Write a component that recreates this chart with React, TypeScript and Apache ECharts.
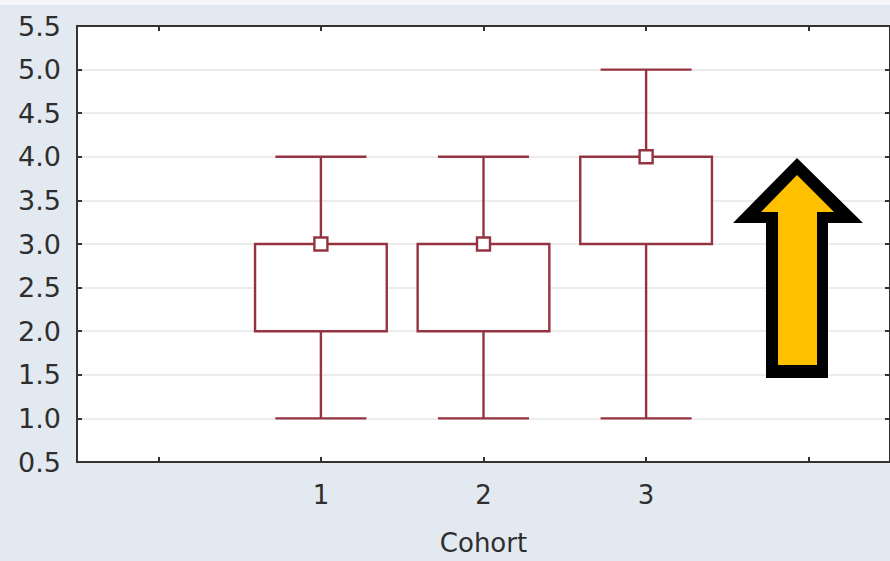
import React, { useEffect, useRef } from "react";
import * as echarts from "echarts";

const categories = ["", "1", "2", "3", ""];
const cohortIndex = [1, 2, 3];
const minValues = [1.0, 1.0, 1.0];
const q1Values = [2.0, 2.0, 3.0];
const medianValues = [3.0, 3.0, 4.0];
const q3Values = [3.0, 3.0, 4.0];
const maxValues = [4.0, 4.0, 5.0];
const yTicks = { min: 0.5, max: 5.5, interval: 0.5 };

const MAROON = "#953340";
const AXIS = "#333333";
const FONT = "DejaVu Sans, Liberation Sans, Arial, sans-serif";
const TEXT = "#2e2e2e";

export default function App() {
  const ref = useRef<HTMLDivElement>(null);
  useEffect(() => {
    if (!ref.current) return;
    const chart = echarts.init(ref.current, undefined, { renderer: "svg" });
    const data = cohortIndex.map((c, i) => [
      c,
      minValues[i],
      q1Values[i],
      medianValues[i],
      q3Values[i],
      maxValues[i],
    ]);
    const option: any = {
      animation: false,
      backgroundColor: "#e3e9f1",
      textStyle: { fontFamily: FONT },
      grid: {
        left: 77,
        top: 26,
        width: 818,
        height: 436,
        show: true,
        backgroundColor: "#ffffff",
        borderColor: AXIS,
        borderWidth: 2,
      },
      xAxis: [
        {
          type: "category",
          data: categories,
          boundaryGap: true,
          position: "bottom",
          name: "Cohort",
          nameLocation: "middle",
          nameGap: 68,
          nameTextStyle: { fontSize: 26, color: TEXT, fontFamily: FONT },
          axisLine: { show: true, lineStyle: { color: AXIS, width: 2 } },
          axisTick: { show: true, inside: true, alignWithLabel: true, length: 5, lineStyle: { color: AXIS, width: 2 } },
          axisLabel: { fontSize: 26, color: TEXT, margin: 20, interval: 0, fontFamily: FONT },
          splitLine: { show: false },
        },
        {
          type: "category",
          data: categories,
          boundaryGap: true,
          position: "top",
          axisLine: { show: true, lineStyle: { color: AXIS, width: 2 } },
          axisTick: { show: true, inside: true, alignWithLabel: true, length: 5, lineStyle: { color: AXIS, width: 2 } },
          axisLabel: { show: false },
          splitLine: { show: false },
        },
      ],
      yAxis: [
        {
          type: "value",
          min: yTicks.min,
          max: yTicks.max,
          interval: yTicks.interval,
          position: "left",
          axisLine: { show: true, lineStyle: { color: AXIS, width: 2 } },
          axisTick: { show: true, inside: true, length: 5, lineStyle: { color: AXIS, width: 2 } },
          axisLabel: {
            fontSize: 27,
            color: TEXT,
            margin: 16,
            fontFamily: FONT,
            formatter: (v: number) => v.toFixed(1),
          },
          splitLine: { show: true, lineStyle: { color: "#ececec", width: 2 } },
        },
        {
          type: "value",
          min: yTicks.min,
          max: yTicks.max,
          interval: yTicks.interval,
          position: "right",
          axisLine: { show: true, lineStyle: { color: AXIS, width: 2 } },
          axisTick: { show: true, inside: true, length: 5, lineStyle: { color: AXIS, width: 2 } },
          axisLabel: { show: false },
          splitLine: { show: false },
        },
      ],
      series: [
        {
          type: "custom",
          xAxisIndex: 0,
          yAxisIndex: 0,
          data,
          encode: { x: 0, y: [1, 2, 3, 4, 5] },
          renderItem: (params: any, api: any) => {
            const idx = api.value(0);
            const band = api.size([1, 0])[0];
            const boxW = band * 0.81;
            const capW = band * 0.56;
            const pMin = api.coord([idx, api.value(1)]);
            const pQ1 = api.coord([idx, api.value(2)]);
            const pMed = api.coord([idx, api.value(3)]);
            const pQ3 = api.coord([idx, api.value(4)]);
            const pMax = api.coord([idx, api.value(5)]);
            const cx = pMin[0];
            const ls = { stroke: MAROON, lineWidth: 2.4, fill: null };
            return {
              type: "group",
              children: [
                { type: "line", shape: { x1: cx, y1: pQ3[1], x2: cx, y2: pMax[1] }, style: ls },
                { type: "line", shape: { x1: cx, y1: pQ1[1], x2: cx, y2: pMin[1] }, style: ls },
                { type: "line", shape: { x1: cx - capW / 2, y1: pMax[1], x2: cx + capW / 2, y2: pMax[1] }, style: ls },
                { type: "line", shape: { x1: cx - capW / 2, y1: pMin[1], x2: cx + capW / 2, y2: pMin[1] }, style: ls },
                {
                  type: "rect",
                  shape: { x: cx - boxW / 2, y: pQ3[1], width: boxW, height: pQ1[1] - pQ3[1] },
                  style: { stroke: MAROON, lineWidth: 2.4, fill: "#ffffff" },
                },
                {
                  type: "rect",
                  shape: { x: cx - 6.5, y: pMed[1] - 6.5, width: 13, height: 13 },
                  style: { stroke: MAROON, lineWidth: 2.4, fill: "#ffffff" },
                },
              ],
            };
          },
        },
      ],
      graphic: [
        {
          type: "rect",
          shape: { x: 0, y: 0, width: 890, height: 5 },
          style: { fill: "#f4f6f9" },
          silent: true,
        },
        {
          type: "polygon",
          z: 100,
          shape: {
            points: [
              [797, 158],
              [863, 223],
              [828, 223],
              [828, 378],
              [766, 378],
              [766, 223],
              [733, 223],
            ],
          },
          style: { fill: "#000000" },
        },
        {
          type: "polygon",
          z: 101,
          shape: {
            points: [
              [797, 175],
              [834, 212],
              [817, 212],
              [817, 365],
              [778, 365],
              [778, 212],
              [761, 212],
            ],
          },
          style: { fill: "#ffc000" },
        },
      ],
    };
    chart.setOption(option);
    return () => chart.dispose();
  }, []);
  return (
    <div
      ref={ref}
      style={{ position: "absolute", left: 0, top: 0, width: 890, height: 561 }}
    />
  );
}
